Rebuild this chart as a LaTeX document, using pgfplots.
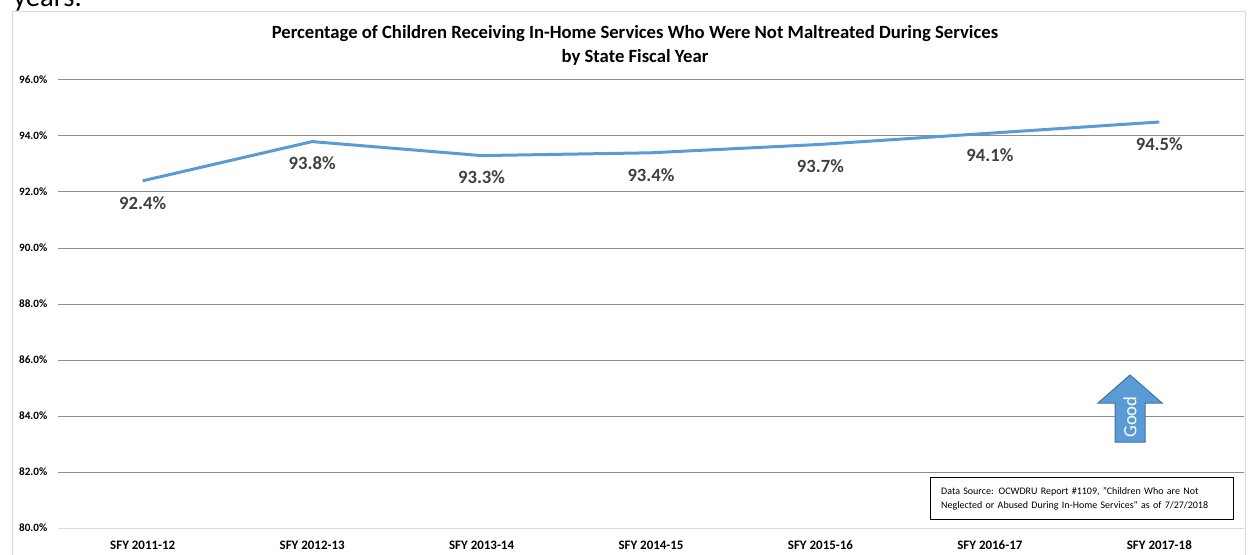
\documentclass[border=0pt]{standalone}
\usepackage{pgfplots}
\pgfplotsset{compat=1.18}
\usepackage{fontspec}
\setmainfont{Carlito}
\definecolor{linecol}{HTML}{5B9BD5}
\definecolor{arrowedge}{HTML}{41719C}
\definecolor{gridcol}{HTML}{8C8C8C}
\definecolor{framecol}{HTML}{D9D9D9}
\definecolor{labcol}{HTML}{404040}
\begin{document}
\begin{tikzpicture}
\useasboundingbox (0,0) rectangle (936pt,415.5pt);
\node[anchor=base west, font=\fontsize{21.5}{25}\selectfont, inner sep=0pt] at (9.75pt,410.6pt) {years.};
\draw[framecol, line width=0.75pt] (9pt,-5pt) -- (9pt,406.5pt) -- (933.75pt,406.5pt) -- (933.75pt,-5pt);
\node[anchor=base, font=\bfseries\fontsize{14}{18}\selectfont, inner sep=0pt] at (476.25pt,386.25pt) {Percentage of Children Receiving In-Home Services Who Were Not Maltreated During Services};
\node[anchor=base, font=\bfseries\fontsize{14}{18}\selectfont, inner sep=0pt] at (476.25pt,368.25pt) {by State Fiscal Year};
\begin{axis}[at={(43.5pt,19.5pt)}, anchor=south west, scale only axis,
  width=889.5pt, height=336pt,
  xmin=-0.5, xmax=6.5, ymin=80, ymax=96,
  xtick={0,1,2,3,4,5,6},
  xticklabels={SFY 2011-12,SFY 2012-13,SFY 2013-14,SFY 2014-15,SFY 2015-16,SFY 2016-17,SFY 2017-18},
  ytick={82,84,86,88,90,92,94,96},
  extra y ticks={80},
  extra y tick style={grid style={framecol, line width=0.75pt}},
  ymajorgrids, grid style={gridcol, line width=0.75pt},
  axis line style={draw=none}, major tick length=0pt,
  /pgf/number format/assume math mode=true,
  yticklabel={\pgfmathprintnumber[fixed,fixed zerofill,precision=1]{\tick}\%},
  yticklabel style={font=\bfseries\fontsize{8.4}{10}\selectfont, xshift=-4.5pt},
  xticklabel style={font=\bfseries\fontsize{9.7}{11}\selectfont, anchor=center, yshift=-12.75pt},
  clip=false]
\addplot[linecol, line width=2.25pt, mark=none,
  nodes near coords={\pgfmathprintnumber[fixed,fixed zerofill,precision=1]{\pgfplotspointmeta}\%},
  every node near coord/.style={anchor=center, yshift=-16.5pt, font=\bfseries\fontsize{14}{16}\selectfont, text=labcol}]
  coordinates {(0,92.4) (1,93.8) (2,93.3) (3,93.4) (4,93.7) (5,94.1) (6,94.5)};
\end{axis}
\filldraw[fill=linecol, draw=arrowedge, line width=0.75pt] (836.25pt,84pt) -- (836.25pt,113.25pt) -- (823.5pt,113.25pt) -- (847.5pt,134.25pt) -- (871.5pt,113.25pt) -- (858.75pt,113.25pt) -- (858.75pt,84pt) -- cycle;
\node[rotate=90, text=white, font=\fontsize{14}{16}\selectfont] at (847.5pt,102.75pt) {Good};
\node[draw=black, line width=0.75pt, fill=white, anchor=south west, text width=211pt, inner xsep=8pt, minimum height=31.5pt, align=left, font=\fontsize{7.5}{10.5}\selectfont] at (697.5pt,25.5pt) {Data Source: OCWDRU Report \#1109, "Children Who are Not\\Neglected or Abused During In-Home Services" as of 7/27/2018};
\end{tikzpicture}
\end{document}
